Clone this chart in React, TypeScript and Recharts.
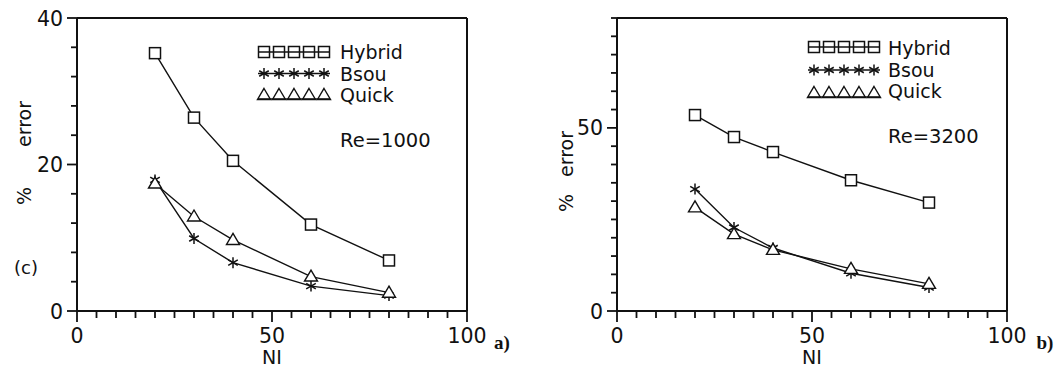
import { LineChart, Line, XAxis, YAxis, ReferenceLine, Legend, Customized } from 'recharts'

// NI values (x) shared by both panels
const NI = [20, 30, 40, 60, 80]

// panel a) Re=1000
const hybridA = [35.2, 26.4, 20.5, 11.8, 6.9]
const bsouA = [17.9, 9.9, 6.6, 3.4, 2.1]
const quickA = [17.4, 12.9, 9.7, 4.7, 2.5]

// panel b) Re=3200
const hybridB = [53.5, 47.5, 43.4, 35.7, 29.6]
const bsouB = [33.3, 22.8, 17.2, 10.3, 6.4]
const quickB = [28.3, 21.0, 16.7, 11.5, 7.4]

const SERIES_KEYS = ['hybrid', 'bsou', 'quick']

const xTicks = [0, 5, 10, 15, 20, 25, 30, 35, 40, 45, 50, 55, 60, 65, 70, 75, 80, 85, 90, 95, 100]
const xLabels = [0, 50, 100]
const yTicksA = [0, 4, 8, 12, 16, 20, 24, 28, 32, 36, 40]
const yLabelsA = [0, 20, 40]
const yTicksB = [0, 5, 10, 15, 20, 25, 30, 35, 40, 45, 50, 55, 60, 65, 70, 75, 80]
const yLabelsB = [0, 50]

const FONT = '"DejaVu Sans", sans-serif'
const INK = '#111'

function XTick({ x, y, payload, labels }: any) {
  const major = labels.includes(payload.value)
  return (
    <g>
      <line x1={x} x2={x} y1={y} y2={y + (major ? 11 : 7)} stroke={INK} strokeWidth={1.8} />
      {major && (
        <text x={x} y={y + 32} textAnchor="middle" fontSize={20.5} fontFamily={FONT} fill={INK}>
          {payload.value}
        </text>
      )}
    </g>
  )
}

function YTick({ x, y, payload, labels }: any) {
  const major = labels.includes(payload.value)
  return (
    <g>
      <line x1={x - (major ? 10 : 6)} x2={x} y1={y} y2={y} stroke={INK} strokeWidth={1.8} />
      {major && (
        <text x={x - 14} y={y + 7.5} textAnchor="end" fontSize={20.5} fontFamily={FONT} fill={INK}>
          {payload.value}
        </text>
      )}
    </g>
  )
}

function Square({ cx, cy, fill = '#fff' }: any) {
  const s = 11
  return <rect x={cx - s / 2} y={cy - s / 2} width={s} height={s} fill={fill} stroke={INK} strokeWidth={1.5} />
}

function Triangle({ cx, cy, fill = '#fff' }: any) {
  return (
    <path
      d={`M${cx},${cy - 6.5} L${cx + 6.5},${cy + 4.5} L${cx - 6.5},${cy + 4.5} Z`}
      fill={fill}
      stroke={INK}
      strokeWidth={1.4}
    />
  )
}

function Star({ cx, cy }: any) {
  const r = 5.5
  const dx = r * 0.87
  const dy = r * 0.5
  return (
    <g stroke={INK} strokeWidth={1.5}>
      <line x1={cx} x2={cx} y1={cy - r} y2={cy + r} />
      <line x1={cx - dx} x2={cx + dx} y1={cy - dy} y2={cy + dy} />
      <line x1={cx - dx} x2={cx + dx} y1={cy + dy} y2={cy - dy} />
    </g>
  )
}

const MARKERS: Record<string, any> = { hybrid: Square, bsou: Star, quick: Triangle }

function makeLegend(x0: number, textX: number, rows: number[], baselines: number[], reText: string, reY: number) {
  return ({ payload }: any) => {
    const items = [...(payload || [])].sort(
      (a: any, b: any) => SERIES_KEYS.indexOf(a.dataKey) - SERIES_KEYS.indexOf(b.dataKey)
    )
    return (
      <svg width={540} height={170} style={{ display: 'block', overflow: 'visible' }}>
        {items.map((item: any, i: number) => {
          const Marker = MARKERS[item.dataKey]
          const cy = rows[i]
          const lineY = item.dataKey === 'quick' ? cy + 4 : cy
          return (
            <g key={item.value}>
              <line x1={x0} x2={x0 + 72} y1={lineY} y2={lineY} stroke={INK} strokeWidth={1.3} />
              {[0, 1, 2, 3, 4].map((k) => (
                <Marker key={k} cx={x0 + 6 + k * 15} cy={cy} fill="none" />
              ))}
              <text x={textX} y={baselines[i]} fontSize={19} fontFamily={FONT} fill={INK}>
                {item.value}
              </text>
            </g>
          )
        })}
        <text x={textX} y={reY} fontSize={19.5} fontFamily={FONT} fill={INK}>
          {reText}
        </text>
      </svg>
    )
  }
}

function Panel(props: any) {
  const { width, rightMargin, hybrid, bsou, quick, yMax, yTicks, yLabels, legend, annotate } = props
  const data = NI.map((ni, i) => ({ ni, hybrid: hybrid[i], bsou: bsou[i], quick: quick[i] }))
  return (
    <LineChart width={width} height={369} data={data} margin={{ top: 18, right: rightMargin, bottom: 0, left: 0 }}>
      <XAxis
        dataKey="ni"
        type="number"
        domain={[0, 100]}
        ticks={xTicks}
        interval={0}
        height={58}
        tickSize={0}
        tickMargin={0}
        tickLine={false}
        axisLine={{ stroke: INK, strokeWidth: 2 }}
        tick={<XTick labels={xLabels} />}
      />
      <YAxis
        type="number"
        domain={[0, yMax]}
        ticks={yTicks}
        interval={0}
        width={77}
        tickSize={0}
        tickMargin={0}
        tickLine={false}
        axisLine={{ stroke: INK, strokeWidth: 2 }}
        tick={<YTick labels={yLabels} />}
      />
      <ReferenceLine y={yMax} stroke={INK} strokeWidth={2} />
      <ReferenceLine x={100} stroke={INK} strokeWidth={2} />
      <Legend
        layout="vertical"
        align="center"
        verticalAlign="middle"
        wrapperStyle={{ left: 0, top: 0, width: 540, height: 170 }}
        content={legend}
      />
      <Line
        dataKey="hybrid"
        name="Hybrid"
        stroke={INK}
        strokeWidth={1.4}
        isAnimationActive={false}
        dot={(p: any) => <Square key={`h${p.index}`} cx={p.cx} cy={p.cy} />}
      />
      <Line
        dataKey="bsou"
        name="Bsou"
        stroke={INK}
        strokeWidth={1.4}
        isAnimationActive={false}
        dot={(p: any) => <Star key={`b${p.index}`} cx={p.cx} cy={p.cy} />}
      />
      <Line
        dataKey="quick"
        name="Quick"
        stroke={INK}
        strokeWidth={1.4}
        isAnimationActive={false}
        dot={(p: any) => <Triangle key={`q${p.index}`} cx={p.cx} cy={p.cy} />}
      />
      <Customized component={annotate} />
    </LineChart>
  )
}

const annotateA = () => (
  <g fill={INK}>
    <text x={31} y={147} transform="rotate(-90 31 147)" fontSize={19} fontFamily={FONT}>error</text>
    <text x={31} y={205} transform="rotate(-90 31 205)" fontSize={19} fontFamily={FONT}>%</text>
    <text x={26} y={274} textAnchor="middle" fontSize={18} fontFamily={FONT}>(c)</text>
    <text x={272} y={364} textAnchor="middle" fontSize={19} fontFamily={FONT}>NI</text>
    <text x={502} y={349} textAnchor="middle" fontSize={19} fontWeight="bold" fontFamily='"Liberation Serif", serif'>a)</text>
  </g>
)

const annotateB = () => (
  <g fill={INK}>
    <text x={33} y={177} transform="rotate(-90 33 177)" fontSize={19} fontFamily={FONT}>error</text>
    <text x={33} y={212} transform="rotate(-90 33 212)" fontSize={19} fontFamily={FONT}>%</text>
    <text x={272} y={364} textAnchor="middle" fontSize={19} fontFamily={FONT}>NI</text>
    <text x={505} y={349} textAnchor="middle" fontSize={19} fontWeight="bold" fontFamily='"Liberation Serif", serif'>b)</text>
  </g>
)

export default function App() {
  return (
    <div style={{ position: 'absolute', left: 0, top: 0, width: 1059, height: 369, display: 'flex', background: '#fff' }}>
      <Panel
        width={540}
        rightMargin={73}
        hybrid={hybridA}
        bsou={bsouA}
        quick={quickA}
        yMax={40}
        yTicks={yTicksA}
        yLabels={yLabelsA}
        legend={makeLegend(258, 340, [52, 73.5, 95], [59, 81, 102], 'Re=1000', 147)}
        annotate={annotateA}
      />
      <Panel
        width={519}
        rightMargin={52}
        hybrid={hybridB}
        bsou={bsouB}
        quick={quickB}
        yMax={80}
        yTicks={yTicksB}
        yLabels={yLabelsB}
        legend={makeLegend(268, 348, [47, 70, 93], [55, 77, 98], 'Re=3200', 143)}
        annotate={annotateB}
      />
    </div>
  )
}
